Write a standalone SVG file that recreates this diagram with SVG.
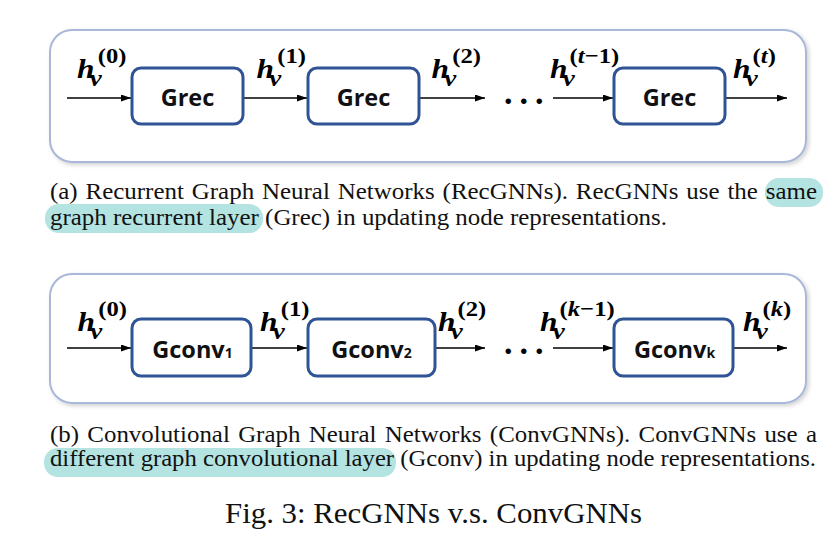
<svg xmlns="http://www.w3.org/2000/svg" width="839" height="545" viewBox="0 0 839 545">
<style>
.panel{fill:#fff;stroke:#a9b7d8;stroke-width:2}
.node rect{fill:#fff;stroke:#2f5496;stroke-width:3}
.nl{font-family:"Open Sans","Liberation Sans",sans-serif;font-weight:bold;font-size:23.5px;fill:#111;text-anchor:middle}
.sub{font-size:14px}
.edge{stroke:#000;stroke-width:1.6;fill:none}
.lab{font-family:"Liberation Serif","DejaVu Serif",serif;font-weight:bold;fill:#000}
.it{font-style:italic}
.cap{font-family:"Liberation Serif","Times New Roman",serif;font-size:22.5px;fill:#111}
.hl{fill:#b3e4e2}
.dots{font-family:"Liberation Serif",serif;font-weight:bold;font-size:34px;letter-spacing:7px}
</style>
<defs>
<marker id="ah" markerWidth="11" markerHeight="8" refX="10" refY="3.5" orient="auto" markerUnits="userSpaceOnUse">
<path d="M0,0 L10,3.5 L0,7 z" fill="#000"/>
</marker>
<filter id="sh" x="-5%" y="-10%" width="110%" height="125%">
<feDropShadow dx="2" dy="2" stdDeviation="2" flood-color="#000" flood-opacity="0.18"/>
</filter>
</defs>
<rect width="839" height="545" fill="#fff"/>

<!-- panel (a) -->
<rect id="panelA" class="panel" x="50" y="30" width="756" height="132" rx="22" filter="url(#sh)"/>
<g id="connectorsA">
<line class="edge" x1="67" y1="98" x2="131" y2="98" marker-end="url(#ah)"/>
<line class="edge" x1="243" y1="98" x2="307" y2="98" marker-end="url(#ah)"/>
<line class="edge" x1="420" y1="98" x2="485" y2="98" marker-end="url(#ah)"/>
<line class="edge" x1="553" y1="98" x2="613" y2="98" marker-end="url(#ah)"/>
<line class="edge" x1="725" y1="98" x2="787" y2="98" marker-end="url(#ah)"/>
</g>
<g id="grec1" class="node"><rect x="132" y="68" width="111" height="56" rx="9"/><text class="nl" x="187.5" y="106">Grec</text></g>
<g id="grec2" class="node"><rect x="308" y="68" width="111" height="56" rx="9"/><text class="nl" x="363.5" y="106">Grec</text></g>
<g id="grec3" class="node"><rect x="614" y="68" width="111" height="56" rx="9"/><text class="nl" x="669.5" y="106">Grec</text></g>
<text class="dots" x="504" y="104">...</text>
<g id="labelsA">
<g transform="translate(77 78) scale(1.12 1)"><text class="lab"><tspan class="it" x="0" y="0" font-size="28">h</tspan><tspan class="it" x="11.5" y="8" font-size="24">v</tspan><tspan x="18.5" y="-15" font-size="22">(0)</tspan></text></g>
<g transform="translate(256.5 78) scale(1.12 1)"><text class="lab"><tspan class="it" x="0" y="0" font-size="28">h</tspan><tspan class="it" x="11.5" y="8" font-size="24">v</tspan><tspan x="18.5" y="-15" font-size="22">(1)</tspan></text></g>
<g transform="translate(431.5 78) scale(1.12 1)"><text class="lab"><tspan class="it" x="0" y="0" font-size="28">h</tspan><tspan class="it" x="11.5" y="8" font-size="24">v</tspan><tspan x="18.5" y="-15" font-size="22">(2)</tspan></text></g>
<g transform="translate(550 78) scale(1.12 1)"><text class="lab"><tspan class="it" x="0" y="0" font-size="28">h</tspan><tspan class="it" x="11.5" y="8" font-size="24">v</tspan><tspan x="17.5" y="-15" font-size="22">(<tspan class="it">t</tspan>−1)</tspan></text></g>
<g transform="translate(733 78) scale(1.12 1)"><text class="lab"><tspan class="it" x="0" y="0" font-size="28">h</tspan><tspan class="it" x="11.5" y="8" font-size="24">v</tspan><tspan x="17.5" y="-15" font-size="22">(<tspan class="it">t</tspan>)</tspan></text></g>
</g>

<!-- caption (a) -->
<rect class="hl" x="765" y="178" width="58" height="29" rx="14"/>
<rect class="hl" x="45" y="204" width="218" height="29" rx="14"/>
<text class="cap" x="50" y="199" textLength="767" lengthAdjust="spacingAndGlyphs" word-spacing="1.5">(a) Recurrent Graph Neural Networks (RecGNNs). RecGNNs use the same</text>
<text class="cap" x="50" y="225" textLength="617" lengthAdjust="spacingAndGlyphs">graph recurrent layer (Grec) in updating node representations.</text>

<!-- panel (b) -->
<rect id="panelB" class="panel" x="50" y="274" width="756" height="129" rx="22" filter="url(#sh)"/>
<g id="connectorsB">
<line class="edge" x1="67" y1="348" x2="131" y2="348" marker-end="url(#ah)"/>
<line class="edge" x1="251" y1="348" x2="307" y2="348" marker-end="url(#ah)"/>
<line class="edge" x1="435" y1="348" x2="485" y2="348" marker-end="url(#ah)"/>
<line class="edge" x1="553" y1="348" x2="613" y2="348" marker-end="url(#ah)"/>
<line class="edge" x1="733" y1="348" x2="787" y2="348" marker-end="url(#ah)"/>
</g>
<g id="gconv1" class="node"><rect x="132" y="319" width="119" height="57" rx="9"/><text class="nl" x="192.5" y="358">Gconv<tspan class="sub">1</tspan></text></g>
<g id="gconv2" class="node"><rect x="308" y="319" width="127" height="57" rx="9"/><text class="nl" x="371.5" y="358">Gconv<tspan class="sub">2</tspan></text></g>
<g id="gconvk" class="node"><rect x="614" y="319" width="119" height="57" rx="9"/><text class="nl" x="674.5" y="358">Gconv<tspan class="sub">k</tspan></text></g>
<text class="dots" x="504" y="354">...</text>
<g id="labelsB">
<g transform="translate(77.5 331) scale(1.12 1)"><text class="lab"><tspan class="it" x="0" y="0" font-size="28">h</tspan><tspan class="it" x="11.5" y="8" font-size="24">v</tspan><tspan x="18.5" y="-15" font-size="22">(0)</tspan></text></g>
<g transform="translate(260 331) scale(1.12 1)"><text class="lab"><tspan class="it" x="0" y="0" font-size="28">h</tspan><tspan class="it" x="11.5" y="8" font-size="24">v</tspan><tspan x="18.5" y="-15" font-size="22">(1)</tspan></text></g>
<g transform="translate(438 331) scale(1.12 1)"><text class="lab"><tspan class="it" x="0" y="0" font-size="28">h</tspan><tspan class="it" x="11.5" y="8" font-size="24">v</tspan><tspan x="17.5" y="-15" font-size="22">(2)</tspan></text></g>
<g transform="translate(540 331) scale(1.12 1)"><text class="lab"><tspan class="it" x="0" y="0" font-size="28">h</tspan><tspan class="it" x="11.5" y="8" font-size="24">v</tspan><tspan x="17.5" y="-15" font-size="22">(<tspan class="it">k</tspan>−1)</tspan></text></g>
<g transform="translate(743 331) scale(1.12 1)"><text class="lab"><tspan class="it" x="0" y="0" font-size="28">h</tspan><tspan class="it" x="11.5" y="8" font-size="24">v</tspan><tspan x="17.5" y="-15" font-size="22">(<tspan class="it">k</tspan>)</tspan></text></g>
</g>

<!-- caption (b) -->
<rect class="hl" x="44" y="448" width="352" height="29" rx="14"/>
<text class="cap" x="50" y="442" textLength="767" lengthAdjust="spacingAndGlyphs" word-spacing="1.9">(b) Convolutional Graph Neural Networks (ConvGNNs). ConvGNNs use a</text>
<text class="cap" x="50" y="466" textLength="766" lengthAdjust="spacingAndGlyphs">different graph convolutional layer (Gconv) in updating node representations.</text>

<text class="cap" x="225" y="523" style="font-size:30px" textLength="417" lengthAdjust="spacingAndGlyphs">Fig. 3: RecGNNs v.s. ConvGNNs</text>
</svg>
